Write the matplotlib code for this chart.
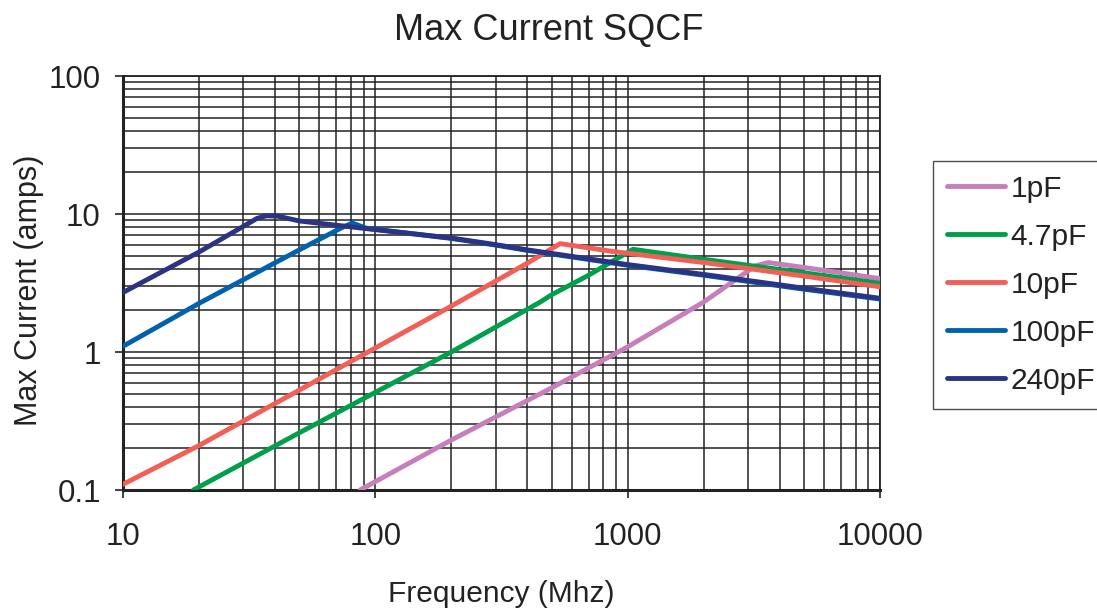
import matplotlib.pyplot as plt
from matplotlib.ticker import LogLocator, FixedLocator, NullFormatter

plt.rcParams["font.family"] = ["Liberation Sans", "DejaVu Sans"]

# ==================== DATA ====================
# (frequency in MHz, current in amps)
f_1pf = [87, 100, 200, 500, 1000, 2000, 3200, 3600, 5000, 10000]
i_1pf = [0.1, 0.115, 0.23, 0.55, 1.09, 2.3, 4.2, 4.45, 4.1, 3.4]

f_4p7pf = [19, 50, 100, 200, 450, 500, 700, 1050, 2000, 5000, 10000]
i_4p7pf = [0.1, 0.26, 0.51, 1.0, 2.3, 2.6, 3.6, 5.55, 4.7, 3.75, 3.15]

f_10pf = [10, 20, 50, 100, 200, 400, 540, 875, 2000, 5000, 10000]
i_10pf = [0.11, 0.21, 0.53, 1.07, 2.15, 4.4, 6.1, 5.35, 4.45, 3.55, 2.97]

f_100pf = [10, 20, 50, 73, 81, 92, 200, 300, 400, 1000, 2000, 5000, 10000]
i_100pf = [1.1, 2.25, 5.5, 7.9, 8.6, 7.9, 6.65, 5.95, 5.45, 4.25, 3.6, 2.85, 2.42]

f_240pf = [10, 20, 34, 37, 41, 50, 100, 200, 300, 400, 1000, 2000, 5000, 10000]
i_240pf = [2.7, 5.3, 9.3, 9.7, 9.65, 8.9, 7.7, 6.7, 6.0, 5.5, 4.3, 3.65, 2.9, 2.45]

labels = ["1pF", "4.7pF", "10pF", "100pF", "240pF"]
colors = ["#c77fbc", "#00a04b", "#f15f57", "#0061ad", "#2a3384"]

x_ticks = [10, 100, 1000, 10000]
x_tick_labels = ["10", "100", "1000", "10000"]
y_ticks = [0.1, 1, 10, 100]
y_tick_labels = ["0.1", "1", "10", "100"]


fig = plt.figure(figsize=(10.97, 6.08), dpi=100)
ax = fig.add_axes([123 / 1097, 1 - 490 / 608, (880 - 123) / 1097, (490 - 76) / 608])

series = [
    (f_1pf, i_1pf),
    (f_4p7pf, i_4p7pf),
    (f_10pf, i_10pf),
    (f_100pf, i_100pf),
    (f_240pf, i_240pf),
]
for (f, i), lab, c in zip(series, labels, colors):
    ax.plot(f, i, color=c, lw=3.5, label=lab, solid_capstyle="round",
            solid_joinstyle="round", zorder=3)

ax.set_xscale("log")
ax.set_yscale("log")
ax.set_xlim(10, 10000)
ax.set_ylim(0.1, 100)

ax.xaxis.set_major_locator(FixedLocator(x_ticks))
ax.set_xticklabels(x_tick_labels)
ax.yaxis.set_major_locator(FixedLocator(y_ticks))
ax.set_yticklabels(y_tick_labels)
ax.xaxis.set_minor_locator(LogLocator(base=10, subs=range(2, 10)))
ax.yaxis.set_minor_locator(LogLocator(base=10, subs=range(2, 10)))
ax.xaxis.set_minor_formatter(NullFormatter())
ax.yaxis.set_minor_formatter(NullFormatter())

ax.grid(True, which="both", color="#222222", lw=1.1)
ax.tick_params(which="major", direction="out", length=6, width=1.2,
               labelsize=22.5, color="#222222", labelcolor="#222222")
ax.tick_params(axis="x", which="major", pad=17)
ax.tick_params(axis="y", which="major", pad=10)
ax.tick_params(which="minor", length=0)

for side in ["top", "right"]:
    ax.spines[side].set_linewidth(1.3)
for side in ["left", "bottom"]:
    ax.spines[side].set_linewidth(2.2)
for s in ax.spines.values():
    s.set_color("#222222")

ax.set_xlabel("Frequency (Mhz)", fontsize=21.5, color="#222222", labelpad=20)
ax.set_ylabel("Max Current (amps)", fontsize=22, color="#222222")
ax.yaxis.set_label_coords(-0.104, 0.483)
fig.text(0.5, 1 - 40 / 608, "Max Current SQCF", fontsize=26, color="#222222",
         ha="center", va="baseline")

leg = fig.legend(loc="upper left", bbox_to_anchor=(933 / 1097, 1 - 161 / 608),
                 fontsize=21.5, frameon=True, fancybox=False, edgecolor="#222222",
                 handlelength=1.95, handletextpad=0.18, labelspacing=0.67,
                 borderpad=0.46, borderaxespad=0)
leg.get_frame().set_linewidth(1.0)
for t in leg.get_texts():
    t.set_color("#222222")

plt.savefig("out.png", dpi=100)
